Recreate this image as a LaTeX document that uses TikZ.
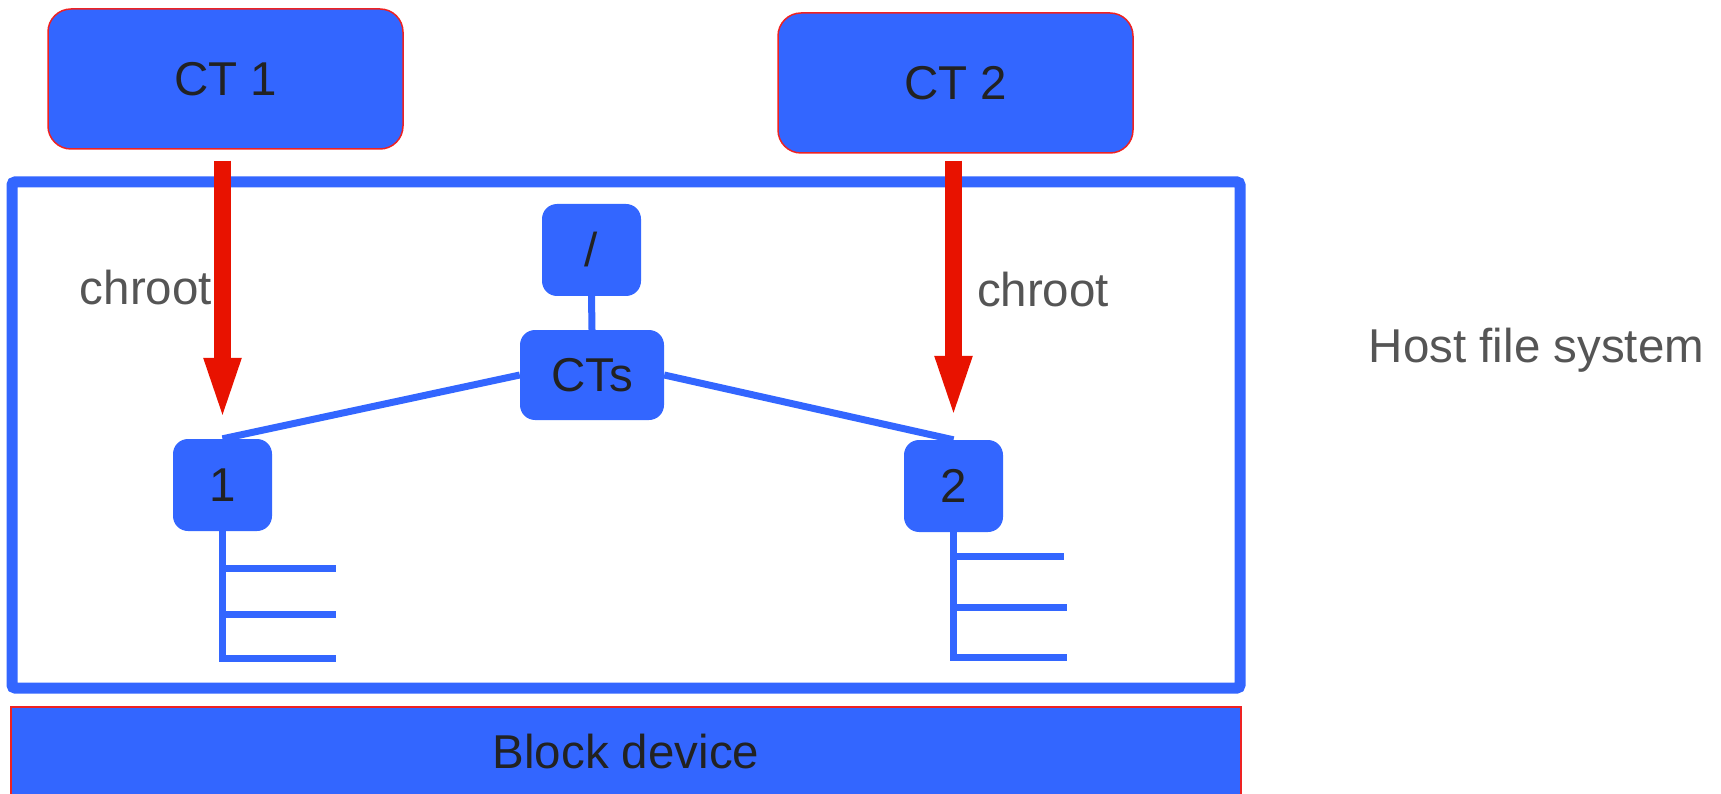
\documentclass[tikz,border=0pt]{standalone}
\usepackage{fontspec}
\setmainfont{Liberation Sans}
\usetikzlibrary{arrows.meta,calc}
\definecolor{myblue}{HTML}{3366FF}
\definecolor{myred}{HTML}{EE2222}
\definecolor{arrowred}{HTML}{E81200}
\definecolor{ink}{HTML}{222222}
\definecolor{labelgray}{HTML}{555555}
\begin{document}
\begin{tikzpicture}[x=1pt,y=-1pt,
  every node/.style={font=\fontsize{47.5}{57}\selectfont},
  ctbox/.style={draw=myred, line width=1.5pt, fill=myblue, rounded corners=23pt, minimum width=355pt, minimum height=140pt, inner sep=0pt, text=ink},
  dirbox/.style={fill=myblue, rounded corners=15pt, inner sep=0pt, text=ink, minimum height=92pt, minimum width=99pt},
  lbl/.style={text=labelgray, anchor=base, inner sep=0pt},
  treeline/.style={myblue, line width=7pt},
  chrootarrow/.style={arrowred, line width=17pt, -{Triangle[width=32pt,length=67pt]}},
]
\useasboundingbox (0,0) rectangle (1721,794);

% host file system frame
\node[draw=myblue, line width=11pt, rounded corners=3pt, minimum width=1228pt, minimum height=506pt, inner sep=0pt] (host) at (626,435) {};

% block device
\begin{scope}
\clip (0,0) rectangle (1721,794);
\node[draw=myred, line width=1.5pt, fill=myblue, minimum width=1230pt, minimum height=90pt, inner sep=0pt, text=ink] (block) at (626,752) {Block device};
\end{scope}

% containers
\node[ctbox] (ct1) at (225.5,79) {CT 1};
\node[ctbox] (ct2) at (955.5,83) {CT 2};

% directory tree nodes
\node[dirbox] (slash) at (591.5,250) {/};
\node[dirbox, minimum width=144pt, minimum height=90pt] (cts) at (592,375) {CTs};
\node[dirbox] (n1) at (222.5,485) {1};
\node[dirbox] (n2) at (953.5,486) {2};

% tree connectors
\draw[treeline] (slash.south) -- (cts.north);
\draw[treeline] (cts.west) -- (n1.north);
\draw[treeline] (cts.east) -- (n2.north);

\coordinate (t1a) at (336,568);
\coordinate (t1b) at (336,614);
\coordinate (t1c) at (336,658);
\draw[treeline] (n1.south) |- (t1c);
\draw[treeline] (n1.south |- t1a) -- (t1a);
\draw[treeline] (n1.south |- t1b) -- (t1b);

\coordinate (t2a) at (1064,556);
\coordinate (t2b) at (1067,607);
\coordinate (t2c) at (1067,657);
\draw[treeline] (n2.south) |- (t2c);
\draw[treeline] (n2.south |- t2a) -- (t2a);
\draw[treeline] (n2.south |- t2b) -- (t2b);

% chroot arrows
\draw[chrootarrow] ($(n1.north |- ct1.south)+(0,11)$) -- ($(n1.north)+(0,-14)$);
\draw[chrootarrow] ($(n2.north |- ct2.south)+(0,7)$) -- ($(n2.north)+(0,-17)$);

% labels
\node[lbl] (chroot1) at (146,305) {chroot};
\node[lbl] (chroot2) at (1043,306) {chroot};
\node[lbl] (hostlbl) at (1536.5,362) {Host file system};
\end{tikzpicture}
\end{document}
